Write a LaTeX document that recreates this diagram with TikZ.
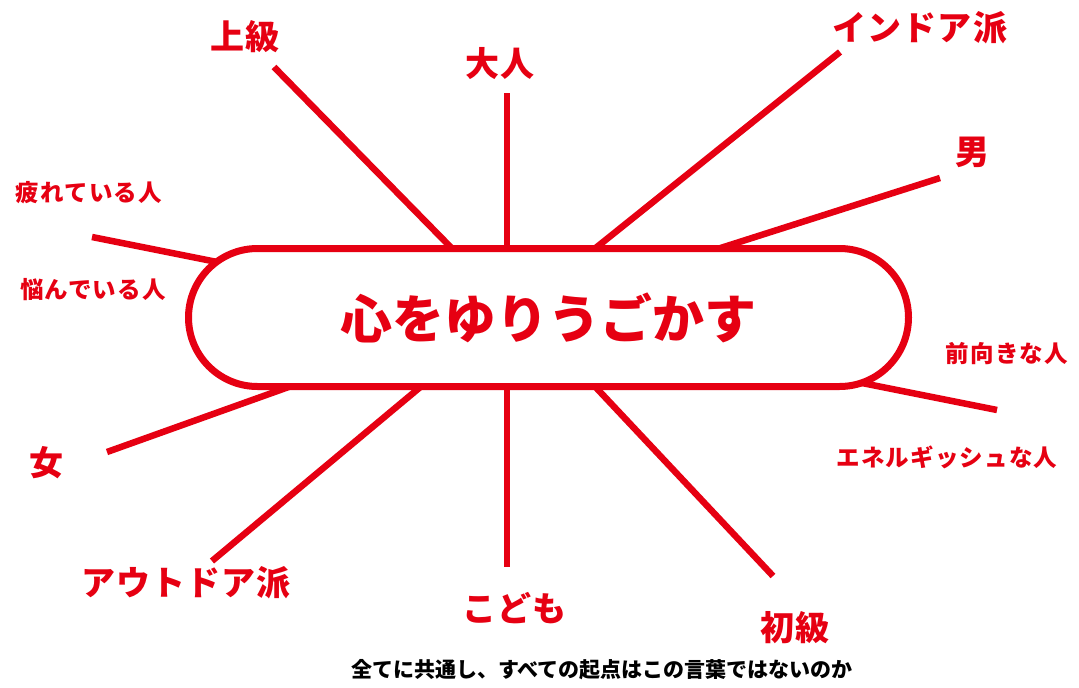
\documentclass[tikz,border=0pt]{standalone}
\usepackage{fontspec}
\usepackage{tikz}
\usetikzlibrary{positioning}
\newfontfamily\jpfont{Noto Sans CJK JP}
\newfontfamily\jpbig{Noto Sans CJK JP}[LetterSpace=3]
\newfontfamily\jpsmall{Noto Sans CJK JP}[LetterSpace=5]
\definecolor{kred}{RGB}{230,0,18}

\begin{document}
\begin{tikzpicture}[x=1pt, y=-1pt,
spoke/.style={draw=kred, line width=6.5pt},
bigword/.style={text=kred, font=\jpbig\bfseries\fontsize{34}{34}\selectfont},
smallword/.style={text=kred, font=\jpsmall\bfseries\fontsize{23.5}{23.5}\selectfont},
centrebox/.style={rectangle, rounded corners=69pt, draw=kred, line width=7pt, fill=white,
  minimum width=720pt, minimum height=138pt, outer sep=0pt, inner sep=0pt}]
\useasboundingbox[fill=white] (0,0) rectangle (1079,688);

\node[centrebox, text=kred, font=\jpfont\bfseries\fontsize{52}{52}\selectfont] (box) at (548.5,317.5) {心をゆりうごかす};

% labels
\node[bigword] (joukyu) at (245,37) {上級};
\node[bigword] (otona) at (500,64) {大人};
\node[bigword] (indoor) at (920,28) {インドア派};
\node[bigword] (otoko) at (972,152) {男};
\node[smallword] (tsukare) at (89,193) {疲れている人};
\node[smallword] (nayami) at (93,290) {悩んでいる人};
\node[smallword] (maemuki) at (1007,354) {前向きな人};
\node[smallword] (energy) at (947,457) {エネルギッシュな人};
\node[bigword] (onna) at (46,463) {女};
\node[bigword] (outdoor) at (186,583) {アウトドア派};
\node[bigword] (kodomo) at (515,608) {こども};
\node[bigword] (shokyu) at (795,628) {初級};
\node[font=\jpfont\bfseries\fontsize{21}{21}\selectfont] (caption) at (602,670)
  {全てに共通し、すべての起点はこの言葉ではないのか};

% free ends of the spokes
\coordinate (e1) at (274,67);
\coordinate (e2) at (507,93);
\coordinate (e3) at (840,52);
\coordinate (e4) at (940,178);
\coordinate (e5) at (92,237);
\coordinate (e6) at (997,410);
\coordinate (e7) at (107,452);
\coordinate (e8) at (212,561);
\coordinate (e9) at (507,567);
\coordinate (e10) at (773,576);

% ends on the box
\coordinate (k1) at ([xshift=-96.5pt]box.north);
\coordinate (k2) at ([xshift=-41.5pt]box.north);
\coordinate (k3) at ([xshift=46.5pt]box.north);
\coordinate (k4) at ([xshift=170.5pt]box.north);
\coordinate (k5) at ([shift={(-331.5,-55.5)}]box.center);
\coordinate (k6) at ([shift={(313.5,65.5)}]box.center);
\coordinate (k7) at ([xshift=-258.5pt]box.south);
\coordinate (k8) at ([xshift=-127.5pt]box.south);
\coordinate (k9) at ([xshift=-41.5pt]box.south);
\coordinate (k10) at ([xshift=46.5pt]box.south);

\foreach \i in {1,...,10}
  \draw[spoke] (k\i) -- (e\i);
\end{tikzpicture}
\end{document}
